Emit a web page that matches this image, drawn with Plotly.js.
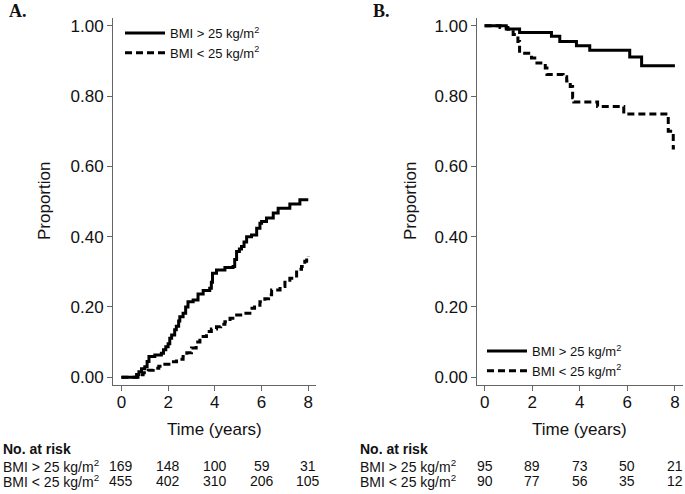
<!DOCTYPE html>
<html>
<head>
<meta charset="utf-8">
<script src="https://cdn.plot.ly/plotly-3.0.1.min.js"></script>
<style>html,body{margin:0;padding:0;background:#fff;}#chart{width:685px;height:494px;}</style>
</head>
<body>
<div id="chart"></div>
<script>
// ---- Data ----
// Panel A: cumulative proportion (event)
var aHighT = [0, 0.65, 0.75, 0.86, 1.0, 1.1, 1.18, 1.43, 1.71, 1.8, 1.9, 2.0, 2.07, 2.15, 2.28, 2.35, 2.45, 2.5, 2.64, 2.75, 2.85, 3.07, 3.28, 3.5, 3.78, 3.85, 3.9, 4.07, 4.43, 4.78, 4.85, 4.93, 5.05, 5.14, 5.25, 5.36, 5.57, 5.79, 5.93, 6.0, 6.21, 6.5, 6.71, 7.21, 7.64, 8.0];
var aHighY = [0, 0.008, 0.016, 0.024, 0.03, 0.045, 0.059, 0.063, 0.068, 0.078, 0.087, 0.095, 0.111, 0.12, 0.135, 0.145, 0.16, 0.172, 0.182, 0.2, 0.215, 0.22, 0.237, 0.247, 0.253, 0.27, 0.296, 0.305, 0.312, 0.315, 0.335, 0.358, 0.365, 0.372, 0.385, 0.40, 0.405, 0.424, 0.438, 0.443, 0.453, 0.467, 0.481, 0.493, 0.505, 0.505];
var aLowT = [0, 0.71, 0.93, 1.15, 1.36, 1.6, 1.86, 2.1, 2.36, 2.64, 2.8, 3.0, 3.2, 3.36, 3.64, 3.85, 4.07, 4.25, 4.43, 4.65, 4.86, 5.21, 5.5, 5.7, 5.93, 6.14, 6.3, 6.43, 6.79, 7.0, 7.21, 7.5, 7.71, 7.85, 7.93, 8.0];
var aLowY = [0, 0.007, 0.013, 0.02, 0.026, 0.031, 0.037, 0.044, 0.051, 0.059, 0.07, 0.083, 0.1, 0.116, 0.13, 0.137, 0.144, 0.151, 0.158, 0.168, 0.177, 0.182, 0.196, 0.205, 0.215, 0.223, 0.235, 0.248, 0.258, 0.27, 0.282, 0.307, 0.315, 0.33, 0.343, 0.345];
// Panel B: survival proportion
var bHighT = [0, 0.91, 1.47, 2.81, 3.16, 3.86, 4.42, 6.1, 6.6, 8.0];
var bHighY = [1.0, 0.991, 0.981, 0.970, 0.955, 0.943, 0.930, 0.911, 0.886, 0.886];
var bLowT = [0, 0.65, 0.98, 1.2, 1.4, 1.47, 1.97, 2.2, 2.55, 2.62, 3.3, 3.45, 3.6, 3.7, 3.75, 4.75, 5.85, 7.72, 7.93, 8.0];
var bLowY = [1.0, 0.995, 0.99, 0.975, 0.955, 0.922, 0.908, 0.894, 0.880, 0.861, 0.855, 0.843, 0.827, 0.795, 0.783, 0.770, 0.749, 0.700, 0.652, 0.652];

var riskTimes = [0, 2, 4, 6, 8];
var aRiskHigh = [169, 148, 100, 59, 31];
var aRiskLow = [455, 402, 310, 206, 105];
var bRiskHigh = [95, 89, 73, 50, 21];
var bRiskLow = [90, 77, 56, 35, 12];

var seriesNames = ['BMI > 25 kg/m<sup>2</sup>', 'BMI < 25 kg/m<sup>2</sup>'];
var yTicks = [0, 0.2, 0.4, 0.6, 0.8, 1.0];
var xTicks = [0, 2, 4, 6, 8];
var panelLabels = ['A.', 'B.'];
var xTitle = 'Time (years)';
var yTitle = 'Proportion';

// ---- Styling ----
var FONT = 'Liberation Sans, Arial, Helvetica, sans-serif';
var W = 685, H = 494;
var solid = {color: '#000', width: 3, shape: 'hv'};
var dashed = {color: '#000', width: 3, shape: 'hv', dash: '7px,4px'};

function tr(x, y, line, name, xa, ya, lg) {
  return {x: x, y: y, type: 'scatter', mode: 'lines', line: line, name: name,
    xaxis: xa, yaxis: ya, legend: lg, hoverinfo: 'skip'};
}

var data = [
  tr(aHighT, aHighY, solid, seriesNames[0], 'x', 'y', 'legend'),
  tr(aLowT, aLowY, dashed, seriesNames[1], 'x', 'y', 'legend'),
  tr(bHighT, bHighY, solid, seriesNames[0], 'x2', 'y2', 'legend2'),
  tr(bLowT, bLowY, dashed, seriesNames[1], 'x2', 'y2', 'legend2')
];

var yDom = [1 - 385 / H, 1 - 18 / H];
function xAxis(dom, range) {
  return {domain: dom, range: range, tickvals: xTicks, ticks: 'outside', ticklen: 5,
    tickcolor: '#666', showline: true, linecolor: '#666', linewidth: 1, showgrid: false,
    zeroline: false, tickfont: {family: FONT, size: 17, color: '#111'},
    ticklabelstandoff: -3, automargin: false, fixedrange: true};
}
function yAxis(anchor) {
  return {domain: yDom, range: [-0.022, 1.022], tickvals: yTicks, tickformat: '.2f',
    ticks: 'outside', ticklen: 5, tickcolor: '#666', showline: true, linecolor: '#666',
    linewidth: 1, showgrid: false, zeroline: false, anchor: anchor,
    tickfont: {family: FONT, size: 17, color: '#111'},
    automargin: false, fixedrange: true};
}

var xa = xAxis([113 / W, 316 / W], [-0.36, 8.33]);
xa.anchor = 'y';
var xb = xAxis([477 / W, 683 / W], [-0.32, 8.34]);
xb.anchor = 'y2';

var annotations = [];
function txt(x, y, xref, text, anchor, opts) {
  annotations.push(Object.assign({x: x, y: y, xref: xref, yref: 'paper', text: text,
    showarrow: false, xanchor: anchor, yanchor: 'middle',
    font: {family: FONT, size: 14, color: '#111'}}, opts || {}));
}
// Panel labels
var serif = {family: 'Liberation Serif, Times New Roman, serif', size: 18, color: '#111'};
txt(7 / W, 1 - 11 / H, 'paper', '<b>' + panelLabels[0] + '</b>', 'left', {font: serif});
txt(371 / W, 1 - 11 / H, 'paper', '<b>' + panelLabels[1] + '</b>', 'left', {font: serif});
// Axis titles
var titleFont = {family: FONT, size: 17, color: '#111'};
txt(44 / W, 1 - 201 / H, 'paper', yTitle, 'center', {textangle: -90, font: titleFont});
txt(410 / W, 1 - 201 / H, 'paper', yTitle, 'center', {textangle: -90, font: titleFont});
txt(4, 1 - 429 / H, 'x', xTitle, 'center', {font: titleFont});
txt(4, 1 - 429 / H, 'x2', xTitle, 'center', {font: titleFont});

// Risk tables
var rowY = [1 - 449 / H, 1 - 466 / H, 1 - 481 / H];
[[1 / W, 'x', aRiskHigh, aRiskLow], [358 / W, 'x2', bRiskHigh, bRiskLow]].forEach(function (p) {
  txt(p[0], rowY[0], 'paper', '<b>No. at risk</b>', 'left');
  txt(p[0], rowY[1], 'paper', seriesNames[0], 'left');
  txt(p[0], rowY[2], 'paper', seriesNames[1], 'left');
  riskTimes.forEach(function (t, i) {
    txt(t, rowY[1], p[1], String(p[2][i]), 'center');
    txt(t, rowY[2], p[1], String(p[3][i]), 'center');
  });
});

var legendBase = {bgcolor: 'rgba(0,0,0,0)', borderwidth: 0, xanchor: 'left', yanchor: 'top',
  font: {family: FONT, size: 13, color: '#111'}, tracegroupgap: 0, itemwidth: 40};

var layout = {
  width: W, height: H, margin: {l: 0, r: 0, t: 0, b: 0},
  paper_bgcolor: '#fff', plot_bgcolor: '#fff', showlegend: true,
  xaxis: xa, yaxis: yAxis('x'), xaxis2: xb, yaxis2: yAxis('x2'),
  legend: Object.assign({}, legendBase, {x: 120 / W, y: 1 - 18 / H}),
  legend2: Object.assign({}, legendBase, {x: 482 / W, y: 1 - 336 / H}),
  annotations: annotations
};

Plotly.newPlot('chart', data, layout, {staticPlot: true, displayModeBar: false});
</script>
</body>
</html>
